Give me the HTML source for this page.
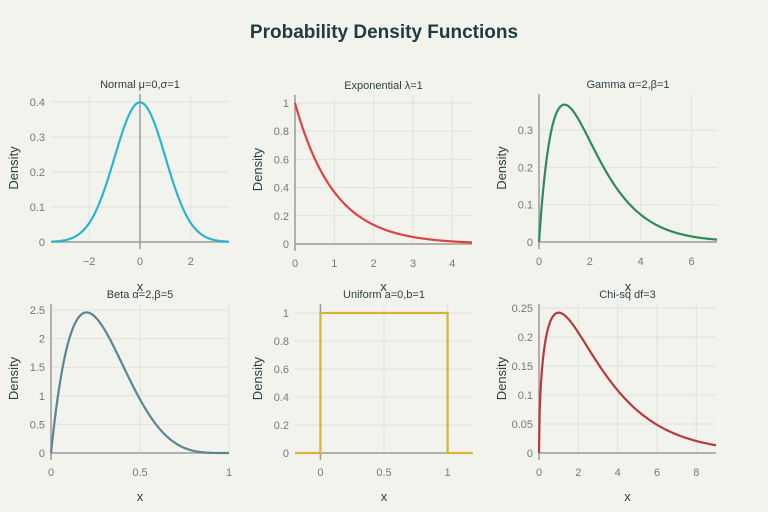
<!DOCTYPE html><html><head><meta charset="utf-8"><style>
body{margin:0;background:#f3f3ee;}
svg text{font-family:"Liberation Sans",sans-serif;}
</style></head><body>
<svg id="s" width="768" height="512" xmlns="http://www.w3.org/2000/svg" style="display:block">
<rect width="768" height="512" fill="#f3f3ee"/>
<text x="384" y="38" text-anchor="middle" font-size="19" font-weight="bold" fill="#1f3b40">Probability Density Functions</text>
</svg>
<script>
const s=document.getElementById('s');const NS='http://www.w3.org/2000/svg';
function el(t,a,txt){const e=document.createElementNS(NS,t);for(const k in a)e.setAttribute(k,a[k]);if(txt!==undefined)e.textContent=txt;s.appendChild(e);return e;}
function gam(z){const g=[1,1,2,6,24];if(Number.isInteger(z))return g[z-1];if(z==1.5)return Math.sqrt(Math.PI)/2;return 1;}
const P=[
{t:'Normal μ=0,σ=1',x0:-3.5,x1:3.5,px0:51,px1:229,y0:0,yv:0.4,py0:242,pyv:102,top:94,xt:[-2,0,2],yt:[0,0.1,0.2,0.3,0.4],c:'#2bb5cc',f:x=>Math.exp(-x*x/2)/Math.sqrt(2*Math.PI),vz:true,tx:'x',txy:290},
{t:'Exponential λ=1',x0:0,x1:4.5,px0:295,px1:472,y0:0,yv:1,py0:244,pyv:103,top:95,xt:[0,1,2,3,4],yt:[0,0.2,0.4,0.6,0.8,1],c:'#dc4444',f:x=>Math.exp(-x),vz:true,txy:290},
{t:'Gamma α=2,β=1',x0:0,x1:7,px0:539,px1:717,y0:0,yv:0.3,py0:242,pyv:130,top:94,xt:[0,2,4,6],yt:[0,0.1,0.2,0.3],c:'#2e8b57',f:x=>x*Math.exp(-x),vz:true,txy:290},
{t:'Beta α=2,β=5',x0:0,x1:1,px0:51,px1:229,y0:0,yv:2.5,py0:453,pyv:310,top:304,xt:[0,0.5,1],yt:[0,0.5,1,1.5,2,2.5],c:'#5a8593',f:x=>30*x*Math.pow(1-x,4),vz:true,txy:500},
{t:'Uniform a=0,b=1',x0:-0.2,x1:1.2,px0:295,px1:473,y0:0,yv:1,py0:453,pyv:313,top:304,xt:[0,0.5,1],yt:[0,0.2,0.4,0.6,0.8,1],c:'#d4b43a',vz:true,txy:500},
{t:'Chi-sq df=3',x0:0,x1:9,px0:539,px1:716,y0:0,yv:0.25,py0:453,pyv:308,top:304,xt:[0,2,4,6,8],yt:[0,0.05,0.1,0.15,0.2,0.25],c:'#b83a3a',f:x=>Math.sqrt(x)*Math.exp(-x/2)/(Math.pow(2,1.5)*gam(1.5)),vz:true,txy:500}
];
for(const p of P){
 const X=x=>p.px0+(x-p.x0)/(p.x1-p.x0)*(p.px1-p.px0);
 const Y=y=>p.py0+(y-p.y0)/(p.yv-p.y0)*(p.pyv-p.py0);
 for(const v of p.xt){el('line',{x1:X(v),x2:X(v),y1:p.top,y2:p.py0,stroke:'#e2e2dc','stroke-width':1});
  el('text',{x:X(v),y:p.py0+23,'text-anchor':'middle','font-size':11,fill:'#777'},v<0?'−'+(-v):String(v));}
 for(const v of p.yt){el('line',{x1:p.px0,x2:p.px1,y1:Y(v),y2:Y(v),stroke:'#e2e2dc','stroke-width':1});
  el('text',{x:p.px0-6,y:Y(v)+4,'text-anchor':'end','font-size':11,fill:'#777'},String(v));}
 el('line',{x1:p.px0,x2:p.px1,y1:p.py0,y2:p.py0,stroke:'#999','stroke-width':1.5});
 if(p.x0<=0)el('line',{x1:X(0),x2:X(0),y1:p.top,y2:p.py0+7,stroke:'#999','stroke-width':1.5});
 let d='';
 if(p.f){const N=300;for(let i=0;i<=N;i++){const x=p.x0+(p.x1-p.x0)*i/N;d+=(i?'L':'M')+X(x).toFixed(2)+','+Y(p.f(x)).toFixed(2);}}
 else{d=`M${X(-0.2)},${Y(0)}L${X(0)},${Y(0)}L${X(0)},${Y(1)}L${X(1)},${Y(1)}L${X(1)},${Y(0)}L${X(1.2)},${Y(0)}`;}
 el('path',{d:d,fill:'none',stroke:p.c,'stroke-width':2.2});
 const cx=(p.px0+p.px1)/2;
 el('text',{x:cx,y:p.top-6,'text-anchor':'middle','font-size':11,fill:'#2a3f44'},p.t);
 el('text',{x:cx,y:p.txy+1,'text-anchor':'middle','font-size':13,fill:'#2a3f44'},'x');
 const ly=(p.top+p.py0)/2, lx=p.px0-33;
 el('text',{x:lx,y:ly,'text-anchor':'middle','font-size':13,fill:'#2a3f44',transform:`rotate(-90 ${lx} ${ly})`},'Density');
}
</script>
</body></html>
